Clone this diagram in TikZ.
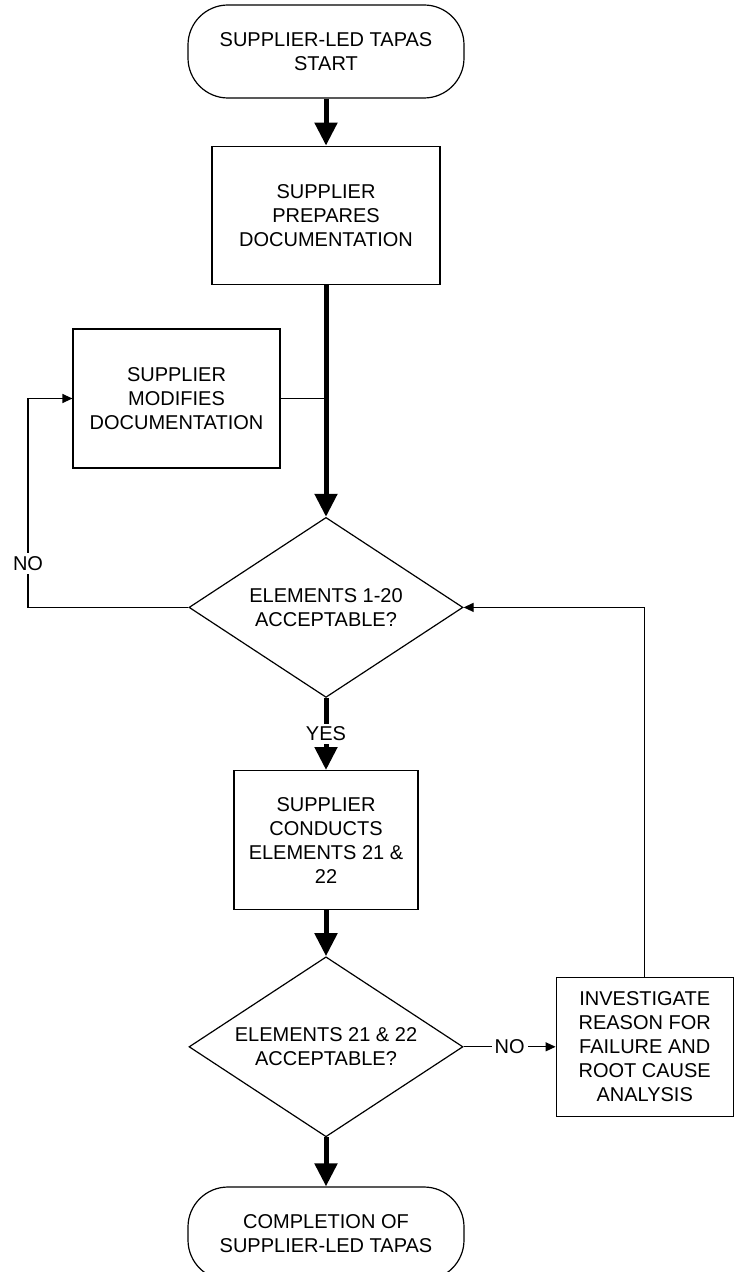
\documentclass[tikz,border=0pt]{standalone}
\usepackage{fontspec}
\setmainfont{Liberation Sans}
\usetikzlibrary{positioning,shapes.geometric,arrows.meta}
\tikzset{ %
  ,>={Triangle[length=5pt,width=4.5pt]}
  ,every node/.style={font=\fontsize{10pt}{12pt}\selectfont, align=center}
  ,term/.style={draw, rectangle, inner sep=0, rounded corners=20pt, minimum width=138pt, minimum height=46.5pt}
  ,proc/.style={draw, rectangle, inner sep=0}
  ,decide/.style={draw, diamond, inner sep=0, minimum width=137pt, minimum height=90pt, aspect=1.52}
  ,mainflow/.style={line width=2.5pt, -{Triangle[length=11.5pt,width=11pt]}}
  ,sideflow/.style={line width=0.6pt, ->}
  ,lbl/.style={fill=white, inner sep=1.5pt}
}

\begin{document}
\begin{tikzpicture}[x=0.5pt, y=-0.5pt, line width=0.6pt]
      \useasboundingbox (0,0) rectangle (733,1272);
      \draw (326,51.5)
      node[term] (start) {SUPPLIER-LED TAPAS\\START}
      node[proc, minimum width=114pt, minimum height=69pt, below=23.5pt of start] (prep) {SUPPLIER\\PREPARES\\DOCUMENTATION}
      node[decide, below=116pt of prep] (chk1) {ELEMENTS 1-20\\ACCEPTABLE?}
      node[proc, minimum width=92pt, minimum height=69.5pt, below=36pt of chk1] (conduct) {SUPPLIER\\CONDUCTS\\ELEMENTS 21 \&\\22}
      node[decide, below=23pt of conduct] (chk2) {ELEMENTS 21 \& 22\\ACCEPTABLE?}
      node[term, below=24.5pt of chk2] (finish) {COMPLETION OF\\SUPPLIER-LED TAPAS}
      node[proc, minimum width=88.5pt, minimum height=69.5pt, right=46pt of chk2] (investigate) {INVESTIGATE\\REASON FOR\\FAILURE AND\\ROOT CAUSE\\ANALYSIS}
      node[proc, minimum width=103.5pt, minimum height=69.5pt] (modify) at (176.5,398.5) {SUPPLIER\\MODIFIES\\DOCUMENTATION};
      \coordinate (loopL) at (28,605);
      \draw [mainflow] (start) -- (prep);
      \draw [mainflow] (prep) -- (chk1);
      \draw (modify.east) -- (modify.east -| prep.south);
      \draw [sideflow] (chk1.west) -- (chk1.west -| loopL) -- node[lbl, pos=0.21] (no1) {NO} (loopL |- modify.west) -- (modify.west);
      \draw [mainflow] (chk1) -- node[lbl] (yes) {YES} (conduct);
      \draw [mainflow] (conduct) -- (chk2);
      \draw [mainflow] (chk2) -- (finish);
      \draw [sideflow] (chk2) -- node[lbl] (no2) {NO} (investigate);
      \draw [sideflow] (investigate.north) |- (chk1.east);
    \end{tikzpicture}
\end{document}
